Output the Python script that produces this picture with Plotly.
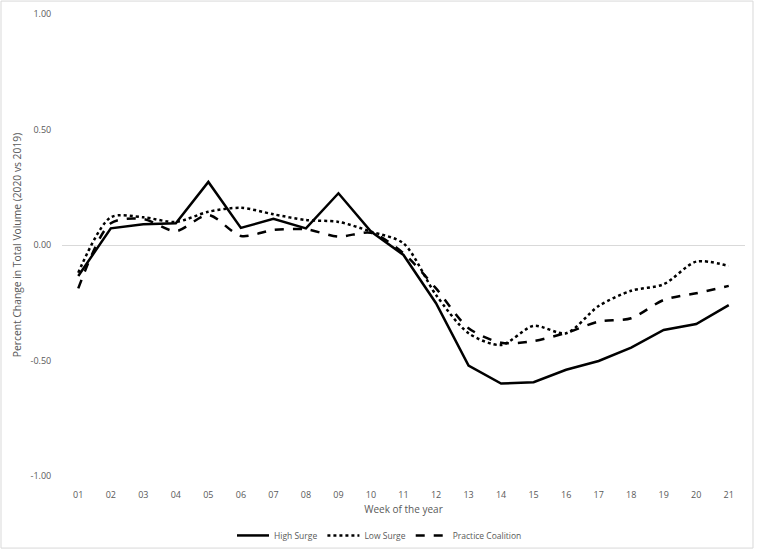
import plotly.graph_objects as go

weeks = ["01", "02", "03", "04", "05", "06", "07", "08", "09", "10", "11",
         "12", "13", "14", "15", "16", "17", "18", "19", "20", "21"]

high_surge = [-0.134, 0.072, 0.090, 0.094, 0.273, 0.074, 0.113, 0.072, 0.224, 0.058, -0.043,
              -0.252, -0.522, -0.600, -0.594, -0.540, -0.502, -0.444, -0.368, -0.342, -0.260]
low_surge = [-0.12, 0.120, 0.120, 0.100, 0.144, 0.161, 0.133, 0.108, 0.100, 0.058, 0.007,
             -0.216, -0.382, -0.433, -0.350, -0.382, -0.264, -0.198, -0.170, -0.072, -0.091]
practice_coalition = [-0.188, 0.094, 0.112, 0.060, 0.130, 0.039, 0.065, 0.068, 0.036, 0.053, -0.036,
                      -0.188, -0.360, -0.423, -0.416, -0.380, -0.332, -0.317, -0.238, -0.209, -0.177]

y_tickvals = [1.0, 0.5, 0.0, -0.5, -1.0]
y_ticktext = ["1.00", "0.50", "0.00", "-0.50", "-1.00"]

FONT = "Open Sans"
GRAY = "#595959"

fig = go.Figure()
fig.add_trace(go.Scatter(x=weeks, y=high_surge, mode="lines", name="High Surge",
                         line=dict(color="black", width=2.5)))
fig.add_trace(go.Scatter(x=weeks, y=low_surge, mode="lines", name="Low Surge",
                         line=dict(color="black", width=2.5, dash="dot", shape="spline", smoothing=0.8)))
fig.add_trace(go.Scatter(x=weeks, y=practice_coalition, mode="lines", name="Practice Coalition",
                         line=dict(color="black", width=2.5, dash="dash", shape="spline", smoothing=0.8)))

fig.update_layout(
    width=759, height=552,
    margin=dict(l=62, r=14, t=14, b=76, autoexpand=False),
    paper_bgcolor="white", plot_bgcolor="white",
    font=dict(family=FONT, size=9, color=GRAY),
    showlegend=True,
    legend=dict(orientation="h", xref="container", x=0.5, xanchor="center",
                yref="container", y=0.03, yanchor="middle", bgcolor="rgba(0,0,0,0)",
                font=dict(size=8.5, color=GRAY), itemwidth=32),
    xaxis=dict(type="category", range=[-0.5, 20.5], showgrid=False, zeroline=False,
               showline=False, ticks="outside", ticklen=10, tickcolor="rgba(0,0,0,0)",
               tickfont=dict(size=9, color=GRAY), automargin=False,
               title=dict(text="Week of the year", font=dict(size=10, color=GRAY), standoff=6)),
    yaxis=dict(range=[-1, 1], tickvals=y_tickvals, ticktext=y_ticktext,
               showgrid=False, zeroline=True, zerolinecolor="#d9d9d9", zerolinewidth=1,
               showline=False, ticks="outside", ticklen=8, tickcolor="rgba(0,0,0,0)",
               tickfont=dict(size=9, color=GRAY), automargin=False,
               title=dict(text="Percent Change in Total Volume (2020 vs 2019)",
                          font=dict(size=10.3, color=GRAY), standoff=6)),
    shapes=[dict(type="rect", xref="paper", yref="paper",
                 x0=-0.0893, x1=1.0117, y0=-0.156, y1=1.028,
                 line=dict(color="#d9d9d9", width=1), fillcolor="rgba(0,0,0,0)", layer="below")],
)

fig.write_html("out.html", config={"displayModeBar": False},
               post_script="document.body.style.margin='0';document.body.style.overflow='hidden';")
